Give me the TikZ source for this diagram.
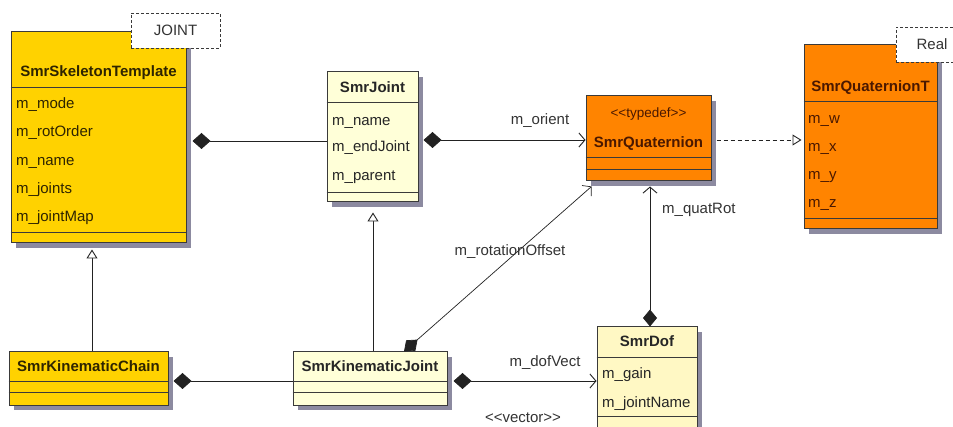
\documentclass[tikz,border=0pt]{standalone}
\usepackage{fontspec}
\setmainfont{Liberation Sans}
\usetikzlibrary{arrows.meta,shadows,calc}
\definecolor{gold}{HTML}{FFD200}
\definecolor{cream}{HTML}{FFFFD8}
\definecolor{creamb}{HTML}{FFF8C4}
\definecolor{orng}{HTML}{FF8400}
\definecolor{shadc}{HTML}{8C8AA0}
\definecolor{bordc}{HTML}{3A3A3A}
\definecolor{linec}{HTML}{222222}
\definecolor{labc}{HTML}{333333}
\definecolor{goldtxt}{HTML}{2E2400}
\definecolor{orngtxt}{HTML}{4A1800}
\definecolor{creamtxt}{HTML}{262626}
\begin{document}
\begin{tikzpicture}[x=1pt,y=-1pt,
  box/.style={draw=bordc, line width=1pt, inner sep=0pt,
    drop shadow={shadow xshift=5pt, shadow yshift=-5pt, fill=shadc, opacity=1}},
  notebox/.style={draw=bordc, dash pattern=on 3pt off 2pt, line width=0.8pt, fill=white,
    inner sep=0pt, text=labc, font=\fontsize{15}{18}\selectfont},
  sepline/.style={draw=bordc, line width=1pt},
  ttl/.style={font=\fontsize{15}{18}\selectfont\bfseries, inner sep=0pt, text height=11pt, text depth=3pt},
  attr/.style={font=\fontsize{15}{18}\selectfont, anchor=west, inner sep=0pt, text height=11pt, text depth=3pt},
  lbl/.style={font=\fontsize{15}{18}\selectfont, text=labc, inner sep=0pt},
  conn/.style={draw=linec, line width=0.9pt},
  dia/.style={arrows={Diamond[length=18pt,width=16pt]-}},
  diabarb/.style={arrows={Diamond[length=18pt,width=16pt]-Straight Barb[length=6pt,width=14pt]}},
  gen/.style={arrows={-Triangle[open,length=9pt,width=11pt,fill=white]}}
]
\clip (0,0) rectangle (953,427);
\fill[white] (0,0) rectangle (953,427);

% ---------- SmrSkeletonTemplate ----------
\node[box, fill=gold, minimum width=175pt, minimum height=211pt] (st) at (98.5,137.5) {};
\draw[sepline] ($(st.north west)+(0,56)$) -- ($(st.north east)+(0,56)$);
\draw[sepline] ($(st.south west)+(0,-11)$) -- ($(st.south east)+(0,-11)$);
\node[notebox, minimum width=89pt, minimum height=35pt] (jn) at (175.5,30.5) {JOINT};
\node[ttl, text=goldtxt] (stt) at (98.5,73) {SmrSkeletonTemplate};
\node[attr, text=goldtxt] (st1) at (16,105) {m\_mode};
\node[attr, text=goldtxt] (st2) at (16,133) {m\_rotOrder};
\node[attr, text=goldtxt] (st3) at (16,162) {m\_name};
\node[attr, text=goldtxt] (st4) at (16,190) {m\_joints};
\node[attr, text=goldtxt] (st5) at (16,218) {m\_jointMap};

% ---------- SmrJoint ----------
\node[box, fill=cream, minimum width=91pt, minimum height=130pt] (sj) at (372.5,137) {};
\draw[sepline] ($(sj.north west)+(0,31)$) -- ($(sj.north east)+(0,31)$);
\draw[sepline] ($(sj.south west)+(0,-10)$) -- ($(sj.south east)+(0,-10)$);
\node[ttl, text=creamtxt] (sjt) at (372.5,89) {SmrJoint};
\node[attr, text=creamtxt] (sj1) at (332,122) {m\_name};
\node[attr, text=creamtxt] (sj2) at (332,148) {m\_endJoint};
\node[attr, text=creamtxt] (sj3) at (332,177) {m\_parent};

% ---------- SmrQuaternion ----------
\node[box, fill=orng, minimum width=125pt, minimum height=85pt] (sq) at (648.5,138.5) {};
\draw[sepline] ($(sq.north west)+(0,62)$) -- ($(sq.north east)+(0,62)$);
\draw[sepline] ($(sq.north west)+(0,74)$) -- ($(sq.north east)+(0,74)$);
\node[inner sep=0pt, text=orngtxt, font=\fontsize{13.5}{16}\selectfont] (sqs) at (648.5,114) {<{}<typedef>{}>};
\node[ttl, text=orngtxt] (sqt0) at (648.5,144) {SmrQuaternion};

% ---------- SmrQuaternionT ----------
\node[box, fill=orng, minimum width=133pt, minimum height=184pt] (sqt) at (870.5,137) {};
\draw[sepline] ($(sqt.north west)+(0,57)$) -- ($(sqt.north east)+(0,57)$);
\draw[sepline] ($(sqt.south west)+(0,-11)$) -- ($(sqt.south east)+(0,-11)$);
\node[notebox, minimum width=76pt, minimum height=35pt] (rl) at (934,44.5) {Real\hspace*{4pt}};
\node[ttl, text=orngtxt] (sqtt) at (870.5,88) {SmrQuaternionT};
\node[attr, text=orngtxt] (q1) at (808,120) {m\_w};
\node[attr, text=orngtxt] (q2) at (808,148) {m\_x};
\node[attr, text=orngtxt] (q3) at (808,176) {m\_y};
\node[attr, text=orngtxt] (q4) at (808,204) {m\_z};

% ---------- SmrKinematicChain ----------
\node[box, fill=gold, minimum width=159pt, minimum height=53pt] (kc) at (88.5,378.5) {};
\draw[sepline] ($(kc.north west)+(0,30)$) -- ($(kc.north east)+(0,30)$);
\draw[sepline] ($(kc.north west)+(0,41)$) -- ($(kc.north east)+(0,41)$);
\node[ttl, text=goldtxt] (kct) at (88.5,368) {SmrKinematicChain};

% ---------- SmrKinematicJoint ----------
\node[box, fill=cream, minimum width=154pt, minimum height=53pt] (kj) at (370,378.5) {};
\draw[sepline] ($(kj.north west)+(0,30)$) -- ($(kj.north east)+(0,30)$);
\draw[sepline] ($(kj.north west)+(0,41)$) -- ($(kj.north east)+(0,41)$);
\node[ttl, text=creamtxt] (kjt) at (370,368) {SmrKinematicJoint};

% ---------- SmrDof ----------
\node[box, fill=creamb, minimum width=100pt, minimum height=113pt] (dof) at (647,383.5) {};
\draw[sepline] ($(dof.north west)+(0,31)$) -- ($(dof.north east)+(0,31)$);
\draw[sepline] ($(dof.north west)+(0,90)$) -- ($(dof.north east)+(0,90)$);
\node[ttl, text=creamtxt] (doft) at (647,343) {SmrDof};
\node[attr, text=creamtxt] (d1a) at (602,375) {m\_gain};
\node[attr, text=creamtxt] (d2a) at (602,403) {m\_jointName};

% ---------- helper coordinates ----------
\coordinate (h141) at (0,141);
\coordinate (h140) at (0,140);
\coordinate (h381) at (0,381);
\coordinate (v92) at (92,0);
\coordinate (v373) at (373,0);
\coordinate (v650) at (650,0);

% ---------- connectors ----------
\draw[conn, dia, shorten <=6pt] (st.east|-h141) -- (sj.west|-h141);
\draw[conn, diabarb, shorten <=5pt] (sj.east|-h140) -- (sq.west|-h140);
\node[lbl] (lo) at (540,121) {m\_orient};
\draw[conn, dash pattern=on 4pt off 3pt, gen, shorten <=5pt, shorten >=2pt] (sq.east|-h140) -- (sqt.west|-h140);
\draw[conn, gen, shorten >=6pt] (kc.north-|v92) -- (st.south-|v92);
\draw[conn, gen, shorten >=10pt] (kj.north-|v373) -- (sj.south-|v373);
\draw[conn, dia, shorten <=5pt] (kc.east|-h381) -- (kj.west|-h381);
\draw[conn, diabarb, shorten <=6pt] (kj.east|-h381) -- (dof.west|-h381);
\node[lbl] (ldv) at (545,363) {m\_dofVect};
\node[lbl] (lvec) at (523,418) {<{}<vector>{}>};
\coordinate (dg0) at ($(kj.north)+(34,0)$);
\coordinate (dg1) at ($(sq.south west)+(6,5)$);
\draw[conn, line width=0.7pt, arrows={Diamond[length=18pt,width=14pt]-Straight Barb[length=6pt,width=14pt]}] (dg0) -- (dg1);
\node[lbl] (lro) at (510,252) {m\_rotationOffset};
\draw[conn, arrows={Diamond[length=17pt,width=14pt]-Straight Barb[length=6pt,width=14pt]}, shorten >=5pt] (dof.north-|v650) -- (sq.south-|v650);
\node[lbl, anchor=west] (lqr) at (662,210) {m\_quatRot};
\end{tikzpicture}
\end{document}
